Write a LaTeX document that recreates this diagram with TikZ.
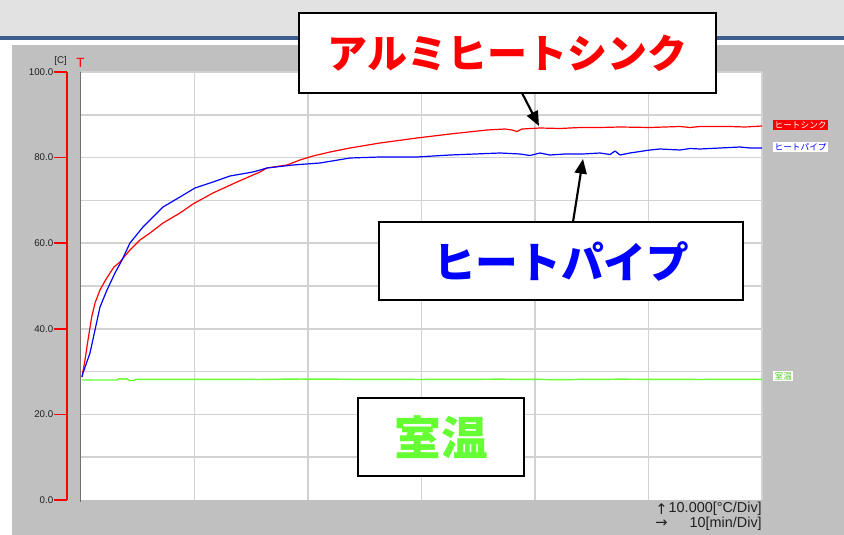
\documentclass[tikz,border=0pt]{standalone}
\usepackage{fontspec}
\setmainfont{Liberation Sans}
\newfontfamily\cjk{Noto Sans CJK JP}
\newfontfamily\dejavu{DejaVu Sans}
\usetikzlibrary{arrows.meta}
\definecolor{panelgray}{HTML}{C0C0C0}
\definecolor{topgray}{HTML}{E2E2E2}
\definecolor{bandblue}{HTML}{3E5F8E}
\definecolor{gridgray}{HTML}{D2D2D2}
\definecolor{axisgray}{HTML}{707070}
\definecolor{hsred}{HTML}{FF0000}
\definecolor{hpblue}{HTML}{0000FF}
\definecolor{rtgreen}{HTML}{66FF33}
\definecolor{labeltext}{HTML}{202020}
\tikzset{
  callout/.style={draw=black, line width=1.6pt, fill=white, inner sep=0pt, font=\cjk\bfseries},
  pointer/.style={line width=1.6pt, -{Triangle[length=11pt,width=9pt]}},
  grid line/.style={draw=gridgray, line width=1.1pt},
  ylab/.style={anchor=east, inner sep=0pt, font=\fontsize{7.3}{8}\selectfont, text=labeltext},
  legendlab/.style={anchor=west, inner sep=1pt, font=\cjk\fontsize{6.5}{7}\selectfont},
  curve/.style={line width=0.9pt, line join=round},
  redaxis/.style={draw=hsred, line width=1.1pt},
  scaletext/.style={anchor=east, inner sep=0pt, font=\fontsize{10.8}{11}\selectfont, text=labeltext},
  scalearrow/.style={anchor=west, inner sep=0pt, font=\dejavu\fontsize{11}{11}\selectfont, text=labeltext},
}
\begin{document}
\begin{tikzpicture}[x=0.75pt, y=-0.75pt]
\useasboundingbox (0,0) rectangle (844,535);
% backgrounds
\fill[white] (0,0) rectangle (844,535);
\fill[topgray] (0,0) rectangle (844,36);
\fill[bandblue] (0,36) rectangle (844,40);
\fill[panelgray] (12,45) rectangle (844,535);
% plot area
\fill[white] (81,72) rectangle (762,500);
\foreach \k in {1,...,9} { \draw[grid line] (81,{72+42.8*\k}) -- (762,{72+42.8*\k}); }
\draw[grid line] (81,72) -- (762,72);
\foreach \k in {1,...,5} { \draw[grid line] ({81+113.5*\k},72) -- ({81+113.5*\k},500); }
\draw[grid line] (762,72) -- (762,500);
\draw[axisgray, line width=1.2pt] (80.5,72) -- (80.5,502);
% red axis
\draw[redaxis] (67,72) -- (67,500);
\foreach \v/\k in {100.0/0,80.0/1,60.0/2,40.0/3,20.0/4,0.0/5} {
  \draw[redaxis] (54,{72+85.6*\k}) -- (67,{72+85.6*\k});
  \node[ylab] (yl\k) at (53.5,{72+85.6*\k}) {\v};
}
\node[anchor=east, inner sep=0pt, font=\fontsize{7.3}{8}\selectfont, text=labeltext] (unit) at (67,61) {[C]};
\node[inner sep=0pt, font=\fontsize{10}{10}\selectfont, text=hsred] (tmark) at (80.5,63) {T};
% curves
\draw[curve, hsred] plot coordinates {(82,377) (85,360) (88,340) (91.7,317) (95,303) (100,290) (105,281) (110,273) (114,267) (120,262) (124,257) (130,250) (140,240) (150,233) (163,223) (180,213) (193,204) (213,193) (237,182) (260,172) (267,168) (287,165) (300,160) (313,156) (330,152) (350,148) (380,143) (417,138) (450,134) (487,130) (505,129) (512,130) (517,131.5) (522,129) (540,128) (560,128.5) (580,127.5) (600,127.5) (620,127) (650,127.5) (680,126.5) (690,127.5) (700,126.5) (730,126.5) (745,127) (762,126)};
\draw[curve, hpblue] plot coordinates {(82,377) (83,373) (90,353) (95,330) (100,307) (107,290) (115,273) (122,260) (130,243) (143,227) (163,207) (180,197) (195,188) (213,182) (230,176) (253,172) (267,168) (293,165) (320,163) (350,158) (380,157) (417,157) (450,155) (500,153) (520,154) (530,155.5) (540,153) (550,155) (565,154) (583,154) (600,153) (610,154.5) (615,151) (620,155) (630,153) (650,150) (660,149) (680,150) (690,148.5) (700,149) (720,148) (740,147) (750,148) (762,148)};
\draw[curve, rtgreen, line width=1.1pt] plot coordinates {(82,380) (117,380) (119,378.8) (127,378.8) (129,380.5) (134,380.5) (136,379.3) (200,379.3) (260,379.5) (300,379) (350,379.3) (420,379.5) (500,379.2) (560,379.6) (620,379.2) (700,379.5) (762,379.3)};
% legend labels
\node[legendlab, fill=hsred, text=white] (lg1) at (773,125) {ヒートシンク};
\node[legendlab, fill=white, text=hpblue] (lg2) at (773,147) {ヒートパイプ};
\node[legendlab, fill=white, text=rtgreen!80!black] (lg3) at (773,376) {室温};
% scale text
\node[scaletext] (sc1) at (762,509) {10.000[°C/Div]};
\node[scalearrow] (ar1) at (655,509) {↑};
\node[scaletext] (sc2) at (762,524) {10[min/Div]};
\node[scalearrow] (ar2) at (655,524) {→};
% callouts
\node[callout, minimum width=312.5pt, minimum height=59.5pt, text=hsred, font=\cjk\bfseries\fontsize{30}{30}\selectfont] (b1) at (507.7,53) {アルミヒートシンク};
\node[callout, minimum width=272.5pt, minimum height=58.5pt, text=hpblue, font=\cjk\bfseries\fontsize{32}{32}\selectfont] (b2) at (561,261) {ヒートパイプ};
\node[callout, minimum width=125pt, minimum height=58.5pt, text=rtgreen, font=\cjk\bfseries\fontsize{35}{35}\selectfont] (b3) at (441,437) {室温};
\coordinate (a1s) at (522,93);
\coordinate (a1e) at (539,126);
\coordinate (a2s) at (573,222);
\coordinate (a2e) at (583,159);
\draw[pointer] (a1s) -- (a1e);
\draw[pointer] (a2s) -- (a2e);
\end{tikzpicture}
\end{document}
